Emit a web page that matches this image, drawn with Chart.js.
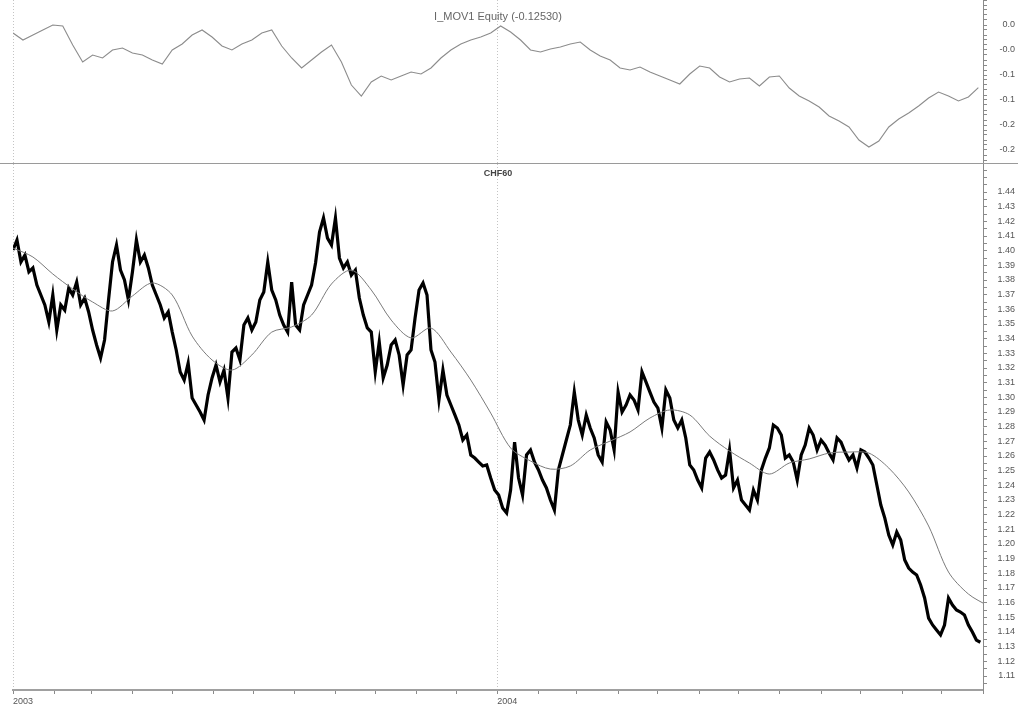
<!DOCTYPE html>
<html>
<head>
<meta charset="utf-8">
<script src="https://cdn.jsdelivr.net/npm/chart.js@4/dist/chart.umd.min.js"></script>
<style>
  html, body { margin: 0; padding: 0; background: #fff; }
  #top { position: absolute; left: 0; top: 0; width: 1018px; height: 163px; border-bottom: 1px solid #9a9a9a; }
  #bottom { position: absolute; left: 0; top: 164px; width: 1018px; height: 544px; }
  canvas { display: block; }
</style>
</head>
<body>
<div id="top"><canvas id="eqCanvas" width="1018" height="163"></canvas></div>
<div id="bottom"><canvas id="pxCanvas" width="1018" height="544"></canvas></div>
<script>
// time axis is in days from 1 Jan 2003
const X_MAX = 731;
const MONTH_STARTS = [0, 31, 59, 90, 120, 151, 181, 212, 243, 273, 304, 334,
                      365, 396, 425, 456, 486, 517, 547, 578, 609, 639, 670, 700, 731];
const YEAR_DAYS = [0, 365];
const YEAR_LABELS = ['2003', '2004'];

// CHF60 close, one sample every 3 days
const PRICE_STEP = 3;
const price = [
  1.4005, 1.4073, 1.3923, 1.3970, 1.3855, 1.3882, 1.3766, 1.3698, 1.3630, 1.3514,
  1.3698, 1.3459, 1.3630, 1.3595, 1.3745, 1.3698, 1.3786, 1.3630, 1.3677, 1.3582,
  1.3459, 1.3357, 1.3268, 1.3391, 1.3664, 1.3923, 1.4039, 1.3868, 1.3800, 1.3664,
  1.3855, 1.4073, 1.3923, 1.3970, 1.3882, 1.3766, 1.3698, 1.3630, 1.3541, 1.3582,
  1.3445, 1.3323, 1.3173, 1.3118, 1.3234, 1.2995, 1.2948, 1.2900, 1.2845, 1.3016,
  1.3132, 1.3220, 1.3105, 1.3186, 1.2995, 1.3309, 1.3336, 1.3255, 1.3493, 1.3541,
  1.3459, 1.3514, 1.3664, 1.3718, 1.3923, 1.3732, 1.3664, 1.3561, 1.3493, 1.3445,
  1.3786, 1.3493, 1.3459, 1.3630, 1.3698, 1.3766, 1.3916, 1.4127, 1.4223, 1.4086,
  1.4039, 1.4223, 1.3950, 1.3882, 1.3923, 1.3834, 1.3868, 1.3677, 1.3561, 1.3473,
  1.3445, 1.3173, 1.3377, 1.3132, 1.3220, 1.3357, 1.3391, 1.3289, 1.3084, 1.3289,
  1.3323, 1.3541, 1.3732, 1.3780, 1.3698, 1.3323, 1.3241, 1.2982, 1.3186, 1.3016,
  1.2948, 1.2880, 1.2811, 1.2709, 1.2743, 1.2607, 1.2586, 1.2559, 1.2532, 1.2539,
  1.2450, 1.2368, 1.2334, 1.2245, 1.2211, 1.2368, 1.2695, 1.2450, 1.2334, 1.2607,
  1.2641, 1.2559, 1.2505, 1.2436, 1.2382, 1.2300, 1.2232, 1.2505, 1.2607, 1.2709,
  1.2811, 1.3036, 1.2845, 1.2743, 1.2880, 1.2791, 1.2723, 1.2607, 1.2559, 1.2832,
  1.2777, 1.2641, 1.3036, 1.2900, 1.2948, 1.3016, 1.2982, 1.2914, 1.3173, 1.3105,
  1.3036, 1.2968, 1.2927, 1.2791, 1.3050, 1.2995, 1.2845, 1.2791, 1.2845, 1.2723,
  1.2539, 1.2505, 1.2436, 1.2382, 1.2586, 1.2627, 1.2573, 1.2505, 1.2450, 1.2470,
  1.2641, 1.2382, 1.2436, 1.2300, 1.2266, 1.2232, 1.2368, 1.2300, 1.2505, 1.2586,
  1.2655, 1.2811, 1.2791, 1.2743, 1.2586, 1.2607, 1.2559, 1.2436, 1.2607, 1.2675,
  1.2791, 1.2743, 1.2641, 1.2709, 1.2675, 1.2620, 1.2573, 1.2723, 1.2695, 1.2627,
  1.2573, 1.2607, 1.2518, 1.2641, 1.2627, 1.2586, 1.2539, 1.2402, 1.2266, 1.2177,
  1.2061, 1.1993, 1.2082, 1.2027, 1.1891, 1.1836, 1.1809, 1.1789, 1.1721, 1.1632,
  1.1495, 1.1448, 1.1414, 1.1380, 1.1448, 1.1632, 1.1584, 1.1550, 1.1536, 1.1516,
  1.1448, 1.1400, 1.1345, 1.1330
];

// moving average of the close, one sample every 15 days
const MA_STEP = 15;
const movAvg = [
  1.4018, 1.3957, 1.3841, 1.3739, 1.3650, 1.3589, 1.3691, 1.3780, 1.3698, 1.3418,
  1.3255, 1.3186, 1.3289, 1.3445, 1.3480, 1.3561, 1.3773, 1.3868, 1.3732, 1.3527,
  1.3405, 1.3473, 1.3309, 1.3118, 1.2893, 1.2655, 1.2566, 1.2511, 1.2532, 1.2641,
  1.2702, 1.2764, 1.2859, 1.2914, 1.2880, 1.2736, 1.2634, 1.2552, 1.2477, 1.2552,
  1.2580, 1.2620, 1.2627, 1.2620, 1.2518, 1.2355, 1.2123, 1.1809, 1.1659, 1.1577
];

// I_MOV1 equity, one sample every 7.5 days
const EQ_STEP = 7.5;
const equity = [
  -0.016, -0.030, -0.020, -0.010, 0.000, -0.002, -0.040, -0.074, -0.060, -0.066,
  -0.050, -0.046, -0.056, -0.060, -0.070, -0.078, -0.050, -0.038, -0.020, -0.010,
  -0.024, -0.042, -0.050, -0.038, -0.030, -0.016, -0.010, -0.042, -0.066, -0.086,
  -0.070, -0.054, -0.040, -0.074, -0.120, -0.142, -0.114, -0.102, -0.110, -0.102,
  -0.094, -0.098, -0.086, -0.066, -0.050, -0.038, -0.030, -0.024, -0.016, -0.002,
  -0.014, -0.030, -0.050, -0.054, -0.048, -0.044, -0.038, -0.034, -0.050, -0.062,
  -0.070, -0.086, -0.090, -0.084, -0.094, -0.102, -0.110, -0.118, -0.098, -0.082,
  -0.086, -0.104, -0.114, -0.108, -0.106, -0.122, -0.104, -0.102, -0.126, -0.142,
  -0.152, -0.164, -0.182, -0.192, -0.204, -0.230, -0.244, -0.232, -0.204, -0.188,
  -0.176, -0.162, -0.146, -0.134, -0.142, -0.152, -0.144, -0.1253
];

const EQ_TICKS = [0, -0.05, -0.10, -0.15, -0.20, -0.25];
const EQ_TICK_LABELS = ['0.0', '-0.0', '-0.1', '-0.1', '-0.2', '-0.2'];
const PRICE_LABEL_LO = 1.11, PRICE_LABEL_HI = 1.44;

const FONT = { family: 'Liberation Sans, Arial, sans-serif', size: 9 };
const TEXT = '#555';

const panelTitle = {
  id: 'panelTitle',
  afterDraw(chart, args, opts) {
    const { ctx, chartArea } = chart;
    ctx.save();
    ctx.font = opts.font;
    ctx.fillStyle = opts.color;
    ctx.textAlign = 'center';
    ctx.textBaseline = 'middle';
    ctx.fillText(opts.text, (chartArea.left + chartArea.right) / 2, chartArea.top + opts.offset);
    ctx.restore();
  }
};

const yearGrid = c => (c.tick && YEAR_DAYS.includes(c.tick.value)) ? '#c4c4c4' : 'rgba(0,0,0,0)';
const series = (vals, step) => vals.map((v, i) => ({ x: i * step, y: v }));
const near = (a, b) => Math.abs(a - b) < 1e-6;

// right axis: fixed width, no extra room for the end labels
const fitRightAxis = s => { s.width = 32; s.paddingTop = 0; s.paddingBottom = 0; };

// tick lists with unlabeled minor ticks in between
function eqTicks(scale) {
  const out = [];
  for (let k = 5; k >= -27; k--) out.push({ value: k / 100 });
  scale.ticks = out.filter(t => t.value >= scale.min && t.value <= scale.max);
}
function priceTicks(scale) {
  const out = [];
  for (let k = 221; k <= 291; k++) out.push({ value: k / 200 });
  scale.ticks = out.filter(t => t.value >= scale.min && t.value <= scale.max);
}

new Chart(document.getElementById('eqCanvas'), {
  type: 'line',
  data: {
    datasets: [{
      data: series(equity, EQ_STEP),
      borderColor: '#8c8c8c',
      borderWidth: 1.1,
      pointRadius: 0,
      tension: 0
    }]
  },
  plugins: [panelTitle],
  options: {
    responsive: false,
    animation: false,
    layout: { padding: { left: 13, right: 3, top: 0, bottom: 0 } },
    plugins: {
      legend: { display: false },
      tooltip: { enabled: false },
      panelTitle: { text: 'I_MOV1 Equity (-0.12530)', font: '11px Liberation Sans, Arial, sans-serif', color: '#666', offset: 17 }
    },
    scales: {
      x: {
        type: 'linear', min: 0, max: X_MAX,
        afterBuildTicks: s => { s.ticks = YEAR_DAYS.map(v => ({ value: v })); },
        ticks: { display: false },
        grid: { color: yearGrid, drawTicks: false },
        border: { display: false, dash: [1, 2] },
        afterFit: s => { s.height = 0; }
      },
      y: {
        position: 'right', min: -0.276, max: 0.05,
        afterBuildTicks: eqTicks,
        ticks: {
          autoSkip: false, font: FONT, color: TEXT, padding: 3, crossAlign: 'far',
          callback: v => {
            const i = EQ_TICKS.findIndex(t => near(t, v));
            return i >= 0 ? EQ_TICK_LABELS[i] : '';
          }
        },
        grid: { drawOnChartArea: false, tickLength: 4, color: '#8a8a8a' },
        border: { color: '#8a8a8a' },
        afterFit: fitRightAxis
      }
    }
  }
});

new Chart(document.getElementById('pxCanvas'), {
  type: 'line',
  data: {
    datasets: [
      {
        data: series(movAvg, MA_STEP),
        borderColor: '#7a7a7a',
        borderWidth: 1,
        pointRadius: 0,
        tension: 0.3
      },
      {
        data: series(price, PRICE_STEP),
        borderColor: '#000',
        borderWidth: 3.2,
        pointRadius: 0,
        tension: 0
      }
    ]
  },
  plugins: [panelTitle],
  options: {
    responsive: false,
    animation: false,
    layout: { padding: { left: 13, right: 3, top: 0, bottom: 0 } },
    plugins: {
      legend: { display: false },
      tooltip: { enabled: false },
      panelTitle: { text: 'CHF60', font: 'bold 9px Liberation Sans, Arial, sans-serif', color: '#444', offset: 10 }
    },
    scales: {
      x: {
        type: 'linear', min: 0, max: X_MAX,
        afterBuildTicks: s => { s.ticks = MONTH_STARTS.map(v => ({ value: v })); },
        ticks: {
          autoSkip: false, maxRotation: 0, align: 'start', font: FONT, color: TEXT, padding: 2,
          callback: v => {
            const i = YEAR_DAYS.indexOf(v);
            return i >= 0 ? YEAR_LABELS[i] : '';
          }
        },
        grid: { color: yearGrid, tickColor: '#8a8a8a', tickWidth: 1, tickLength: 4 },
        border: { color: '#a0a0a0', width: 2, dash: [1, 2] },
        afterFit: s => { s.height = 18; s.paddingLeft = 0; s.paddingRight = 0; }
      },
      y: {
        position: 'right', min: 1.10046, max: 1.4591,
        afterBuildTicks: priceTicks,
        ticks: {
          autoSkip: false, font: FONT, color: TEXT, padding: 3, crossAlign: 'far',
          callback: v => {
            const c = Math.round(v * 1000);
            if (c % 10 !== 0 || v < PRICE_LABEL_LO - 1e-6 || v > PRICE_LABEL_HI + 1e-6) return '';
            return v.toFixed(2);
          }
        },
        grid: { drawOnChartArea: false, tickLength: 4, color: '#8a8a8a' },
        border: { color: '#8a8a8a' },
        afterFit: fitRightAxis
      }
    }
  }
});
</script>
</body>
</html>
